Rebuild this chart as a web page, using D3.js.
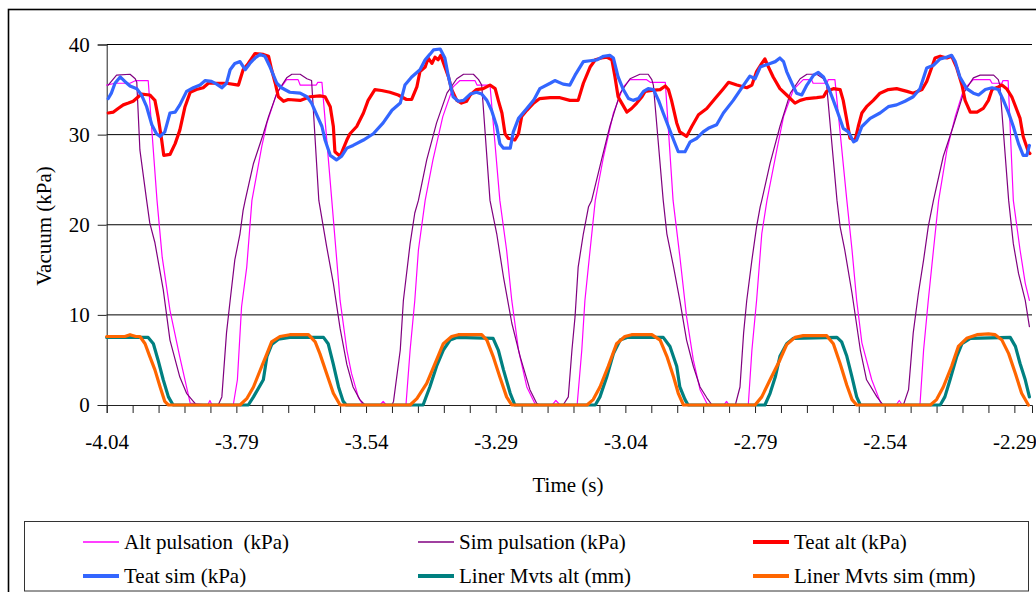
<!DOCTYPE html>
<html><head><meta charset="utf-8">
<script src="https://cdn.jsdelivr.net/npm/d3@7"></script>
<style>
html,body{margin:0;padding:0;background:#fff;}
text{font-family:"Liberation Serif","Times New Roman",serif;fill:#000;}
</style></head>
<body><svg id="c" width="1036" height="592"></svg>
<script>
// ---- data (time in s, value) ----
const seriesNames = ["Alt pulsation  (kPa)","Sim pulsation (kPa)","Teat alt (kPa)","Teat sim (kPa)","Liner Mvts alt (mm)","Liner Mvts sim (mm)"];
const yTicks = [0,10,20,30,40];
const xTickLabels = ["-4.04","-3.79","-3.54","-3.29","-3.04","-2.79","-2.54","-2.29"];

const altPulsation = [[-4.040,35.5],[-4.024,35.7],[-3.995,35.7],[-3.984,36.0],[-3.960,36.0],[-3.943,22.7],[-3.933,16.4],[-3.918,10.5],[-3.899,5.3],[-3.879,0.2],[-3.845,0],[-3.841,0.5],[-3.837,0],[-3.796,0],[-3.788,2.8],[-3.780,10.9],[-3.770,15.3],[-3.760,22.7],[-3.741,28.7],[-3.731,31.3],[-3.712,34.6],[-3.693,36.1],[-3.671,36.1],[-3.667,35.5],[-3.636,35.5],[-3.633,35.8],[-3.625,35.8],[-3.606,22.7],[-3.590,11.6],[-3.577,6.1],[-3.568,3.5],[-3.555,0.9],[-3.546,0],[-3.513,0],[-3.507,0.4],[-3.501,0],[-3.463,0],[-3.455,6.1],[-3.446,11.6],[-3.439,17.2],[-3.426,22.7],[-3.411,27.2],[-3.392,32.0],[-3.372,35.3],[-3.359,36.0],[-3.330,36.0],[-3.326,35.5],[-3.301,35.5],[-3.282,22.7],[-3.269,17.2],[-3.259,11.6],[-3.246,6.1],[-3.230,2.0],[-3.214,0.1],[-3.210,0],[-3.181,0],[-3.174,0.5],[-3.166,0],[-3.133,0],[-3.124,6.1],[-3.118,11.6],[-3.108,17.2],[-3.098,22.7],[-3.082,27.6],[-3.063,32.4],[-3.044,35.3],[-3.031,36.1],[-2.999,36.1],[-2.992,35.8],[-2.963,35.8],[-2.948,22.7],[-2.935,16.5],[-2.922,9.8],[-2.909,5.0],[-2.896,1.7],[-2.883,0.2],[-2.879,0],[-2.850,0],[-2.845,0.4],[-2.840,0],[-2.803,0],[-2.796,6.1],[-2.787,11.6],[-2.777,19.0],[-2.767,22.7],[-2.748,28.3],[-2.735,32.0],[-2.716,35.0],[-2.697,36.1],[-2.681,36.1],[-2.678,35.7],[-2.651,35.7],[-2.649,36.1],[-2.636,36.1],[-2.613,22.7],[-2.603,17.2],[-2.594,11.6],[-2.584,6.9],[-2.565,2.8],[-2.549,0.4],[-2.545,0],[-2.518,0],[-2.512,0.5],[-2.506,0],[-2.472,0],[-2.465,6.1],[-2.456,11.6],[-2.446,17.2],[-2.436,22.7],[-2.420,28.3],[-2.404,32.0],[-2.388,35.0],[-2.369,36.1],[-2.337,36.1],[-2.333,35.7],[-2.314,35.7],[-2.312,36.0],[-2.302,36.0],[-2.292,22.7],[-2.279,17.2],[-2.269,13.5],[-2.261,11.6]];

const simPulsation = [[-4.037,35.5],[-4.021,36.6],[-3.995,36.7],[-3.985,36.2],[-3.982,35.8],[-3.976,28.3],[-3.963,22.7],[-3.957,20.2],[-3.947,18.0],[-3.931,12.8],[-3.918,7.2],[-3.899,3.1],[-3.886,1.3],[-3.873,0.4],[-3.867,0],[-3.825,0],[-3.818,0.9],[-3.809,8.0],[-3.802,11.6],[-3.793,16.1],[-3.783,19.0],[-3.777,21.6],[-3.773,22.7],[-3.757,26.8],[-3.738,30.1],[-3.728,32.0],[-3.712,34.6],[-3.693,36.3],[-3.683,36.7],[-3.667,36.7],[-3.654,36.2],[-3.645,36.0],[-3.631,22.7],[-3.616,17.6],[-3.603,13.5],[-3.590,8.5],[-3.577,4.5],[-3.565,2.0],[-3.552,0.6],[-3.542,0],[-3.490,0],[-3.487,0.4],[-3.474,6.1],[-3.468,11.6],[-3.455,17.9],[-3.446,21.3],[-3.439,22.7],[-3.423,27.2],[-3.404,31.3],[-3.384,34.6],[-3.365,36.2],[-3.352,36.7],[-3.333,36.7],[-3.323,36.1],[-3.317,35.5],[-3.301,22.7],[-3.288,19.0],[-3.275,14.2],[-3.259,9.1],[-3.243,5.4],[-3.224,1.7],[-3.211,0.2],[-3.206,0],[-3.160,0],[-3.150,0.9],[-3.143,6.1],[-3.137,9.8],[-3.131,15.3],[-3.121,19.0],[-3.111,22.0],[-3.105,22.7],[-3.086,27.2],[-3.070,30.9],[-3.050,34.6],[-3.031,36.2],[-3.012,36.7],[-2.996,36.7],[-2.989,36.1],[-2.986,35.5],[-2.967,22.7],[-2.960,19.0],[-2.947,15.3],[-2.935,11.6],[-2.922,7.2],[-2.909,4.3],[-2.896,2.0],[-2.883,0.8],[-2.873,0],[-2.828,0],[-2.819,2.0],[-2.812,8.0],[-2.806,11.6],[-2.796,16.1],[-2.787,19.8],[-2.780,22.0],[-2.777,22.7],[-2.761,26.8],[-2.742,30.9],[-2.722,34.6],[-2.703,36.2],[-2.690,36.7],[-2.671,36.7],[-2.658,36.2],[-2.652,35.5],[-2.632,22.7],[-2.626,19.8],[-2.617,17.2],[-2.603,12.4],[-2.587,6.1],[-2.575,2.8],[-2.555,0.9],[-2.543,0],[-2.504,0],[-2.494,1.7],[-2.485,8.0],[-2.475,12.4],[-2.465,16.1],[-2.456,19.8],[-2.446,22.7],[-2.427,27.6],[-2.408,30.9],[-2.388,34.6],[-2.369,36.3],[-2.356,36.6],[-2.330,36.6],[-2.321,36.1],[-2.318,35.5],[-2.301,22.7],[-2.292,17.9],[-2.282,14.6],[-2.269,11.6],[-2.261,8.7]];

const teatAlt = [[-4.037,32.4],[-4.027,32.5],[-4.018,32.9],[-4.008,33.3],[-3.998,33.5],[-3.989,33.7],[-3.979,34.2],[-3.973,34.5],[-3.957,34.4],[-3.947,33.8],[-3.941,32.0],[-3.934,29.4],[-3.930,27.7],[-3.918,27.8],[-3.908,29.0],[-3.899,30.5],[-3.889,33.1],[-3.879,34.7],[-3.867,35.0],[-3.854,35.2],[-3.844,35.7],[-3.809,35.7],[-3.786,35.5],[-3.777,37.2],[-3.767,37.9],[-3.754,39.0],[-3.738,38.9],[-3.728,38.7],[-3.722,37.2],[-3.715,35.7],[-3.709,34.2],[-3.699,33.7],[-3.690,33.9],[-3.667,33.8],[-3.648,34.2],[-3.629,34.3],[-3.619,34.2],[-3.609,33.1],[-3.603,30.9],[-3.600,28.1],[-3.590,27.6],[-3.577,29.4],[-3.571,30.1],[-3.558,30.9],[-3.545,32.4],[-3.536,33.8],[-3.523,35.0],[-3.510,34.9],[-3.494,34.7],[-3.478,34.4],[-3.462,33.9],[-3.452,33.9],[-3.442,35.3],[-3.436,37.0],[-3.426,37.5],[-3.420,38.5],[-3.413,37.9],[-3.407,38.6],[-3.401,38.3],[-3.396,38.8],[-3.388,37.5],[-3.381,36.4],[-3.375,35.0],[-3.365,33.8],[-3.356,33.5],[-3.346,33.7],[-3.339,34.4],[-3.327,35.0],[-3.314,35.1],[-3.301,35.5],[-3.291,35.1],[-3.285,33.8],[-3.278,32.4],[-3.272,30.1],[-3.266,29.6],[-3.253,29.4],[-3.246,30.1],[-3.240,32.0],[-3.230,32.7],[-3.217,33.5],[-3.205,34.0],[-3.185,34.1],[-3.166,34.1],[-3.147,33.8],[-3.131,33.8],[-3.121,35.7],[-3.108,37.5],[-3.098,38.3],[-3.086,38.5],[-3.076,38.6],[-3.066,38.3],[-3.060,36.4],[-3.054,34.2],[-3.047,33.5],[-3.037,32.5],[-3.028,32.9],[-3.018,33.5],[-3.008,34.2],[-3.002,34.8],[-2.989,34.9],[-2.973,35.0],[-2.963,35.4],[-2.957,35.0],[-2.951,33.8],[-2.941,31.3],[-2.935,30.3],[-2.922,29.8],[-2.912,30.9],[-2.899,32.2],[-2.883,32.9],[-2.867,34.0],[-2.851,35.1],[-2.841,35.8],[-2.825,35.5],[-2.806,35.2],[-2.796,35.5],[-2.787,37.0],[-2.777,37.9],[-2.771,38.4],[-2.764,37.5],[-2.755,36.4],[-2.742,35.1],[-2.729,34.4],[-2.713,33.5],[-2.703,33.8],[-2.690,34.0],[-2.671,34.1],[-2.658,34.2],[-2.652,34.8],[-2.639,35.1],[-2.626,35.0],[-2.620,33.8],[-2.613,31.6],[-2.607,29.6],[-2.597,29.4],[-2.591,30.9],[-2.584,32.4],[-2.575,33.1],[-2.562,33.8],[-2.549,34.6],[-2.533,35.0],[-2.517,35.1],[-2.497,34.8],[-2.485,34.6],[-2.468,35.0],[-2.459,35.9],[-2.449,37.5],[-2.443,38.5],[-2.433,38.7],[-2.420,38.5],[-2.411,38.7],[-2.401,37.4],[-2.391,35.5],[-2.385,33.8],[-2.375,32.5],[-2.362,32.5],[-2.350,32.9],[-2.340,33.8],[-2.333,35.0],[-2.321,35.3],[-2.314,35.5],[-2.305,35.1],[-2.295,34.2],[-2.285,32.7],[-2.279,31.8],[-2.273,29.8],[-2.263,28.1],[-2.260,27.9]];

const teatSim = [[-4.037,34.0],[-4.031,34.6],[-4.024,35.7],[-4.014,36.4],[-4.005,35.9],[-3.995,35.4],[-3.982,35.1],[-3.973,34.4],[-3.963,33.1],[-3.953,31.1],[-3.944,30.1],[-3.937,29.8],[-3.928,30.3],[-3.918,32.4],[-3.908,32.5],[-3.899,33.3],[-3.886,34.8],[-3.873,35.2],[-3.860,35.5],[-3.850,36.0],[-3.838,35.9],[-3.828,35.6],[-3.818,35.2],[-3.809,35.7],[-3.802,37.2],[-3.793,37.9],[-3.783,38.1],[-3.773,37.2],[-3.764,37.9],[-3.754,38.5],[-3.744,38.9],[-3.735,38.7],[-3.725,37.5],[-3.712,35.7],[-3.703,35.2],[-3.687,34.7],[-3.667,34.6],[-3.654,34.2],[-3.645,33.5],[-3.635,32.2],[-3.625,30.9],[-3.619,29.4],[-3.609,27.7],[-3.597,27.2],[-3.587,27.6],[-3.577,28.5],[-3.565,28.8],[-3.545,29.4],[-3.526,30.1],[-3.507,31.3],[-3.490,32.7],[-3.474,33.5],[-3.465,35.5],[-3.452,36.4],[-3.436,37.2],[-3.426,38.3],[-3.417,38.9],[-3.410,39.4],[-3.397,39.5],[-3.388,38.5],[-3.381,36.4],[-3.372,34.2],[-3.362,33.7],[-3.352,33.8],[-3.339,34.5],[-3.327,34.7],[-3.317,34.5],[-3.307,33.8],[-3.298,32.7],[-3.288,30.9],[-3.282,29.0],[-3.275,28.5],[-3.262,28.5],[-3.256,30.3],[-3.246,31.8],[-3.230,32.9],[-3.217,33.8],[-3.205,35.1],[-3.185,35.7],[-3.176,36.0],[-3.160,35.6],[-3.147,35.5],[-3.137,36.6],[-3.121,38.1],[-3.108,38.2],[-3.095,38.3],[-3.082,38.7],[-3.070,38.8],[-3.063,38.5],[-3.054,36.4],[-3.044,35.0],[-3.034,34.0],[-3.025,33.8],[-3.015,34.0],[-3.005,34.8],[-2.996,35.1],[-2.986,35.0],[-2.976,33.8],[-2.967,32.4],[-2.957,30.9],[-2.947,29.4],[-2.938,28.1],[-2.925,28.1],[-2.915,29.2],[-2.902,29.6],[-2.890,30.3],[-2.880,30.7],[-2.864,31.1],[-2.851,32.4],[-2.832,33.8],[-2.812,35.5],[-2.800,36.5],[-2.790,36.2],[-2.780,37.5],[-2.771,37.7],[-2.761,37.9],[-2.751,38.1],[-2.742,38.5],[-2.735,38.1],[-2.729,37.0],[-2.719,35.7],[-2.710,34.6],[-2.700,34.4],[-2.690,35.5],[-2.677,36.6],[-2.668,36.9],[-2.658,36.4],[-2.649,35.3],[-2.639,33.8],[-2.629,32.2],[-2.620,30.7],[-2.610,30.3],[-2.600,29.2],[-2.594,29.4],[-2.584,30.9],[-2.568,31.8],[-2.549,32.4],[-2.533,33.1],[-2.517,33.3],[-2.501,33.7],[-2.485,34.2],[-2.472,35.1],[-2.459,37.4],[-2.446,37.7],[-2.433,38.4],[-2.420,38.6],[-2.411,38.8],[-2.404,38.1],[-2.395,36.4],[-2.382,35.1],[-2.369,34.6],[-2.359,34.4],[-2.346,35.0],[-2.333,35.2],[-2.321,35.0],[-2.311,33.8],[-2.301,32.4],[-2.292,30.9],[-2.282,29.0],[-2.273,27.7],[-2.266,27.7],[-2.261,28.8]];

const linerAlt = [[-4.040,7.5],[-3.960,7.5],[-3.950,6.8],[-3.941,5.0],[-3.931,2.8],[-3.921,0.9],[-3.912,0],[-3.767,0],[-3.757,0.9],[-3.738,2.8],[-3.731,5.4],[-3.722,6.7],[-3.709,7.3],[-3.687,7.5],[-3.622,7.5],[-3.613,6.8],[-3.603,4.5],[-3.593,2.0],[-3.584,0.4],[-3.578,0],[-3.430,0],[-3.417,2.0],[-3.404,4.3],[-3.391,6.1],[-3.378,7.2],[-3.365,7.5],[-3.295,7.4],[-3.285,6.1],[-3.275,3.9],[-3.262,1.3],[-3.253,0],[-3.098,0],[-3.089,0.9],[-3.076,3.1],[-3.063,5.7],[-3.050,7.2],[-3.037,7.5],[-2.967,7.5],[-2.954,6.5],[-2.941,4.3],[-2.935,2.0],[-2.925,0.6],[-2.919,0],[-2.771,0],[-2.761,1.3],[-2.751,3.1],[-2.742,5.4],[-2.729,6.8],[-2.716,7.4],[-2.632,7.5],[-2.623,7.0],[-2.613,5.4],[-2.603,3.1],[-2.594,0.9],[-2.587,0],[-2.433,0],[-2.424,0.9],[-2.414,2.8],[-2.401,5.4],[-2.391,6.8],[-2.375,7.4],[-2.298,7.5],[-2.288,6.5],[-2.279,4.6],[-2.269,2.8],[-2.261,0.9]];

const linerSim = [[-4.040,7.6],[-4.005,7.6],[-3.995,7.8],[-3.984,7.6],[-3.976,7.6],[-3.966,6.8],[-3.957,5.4],[-3.947,3.9],[-3.937,2.0],[-3.928,0.4],[-3.921,0],[-3.783,0],[-3.770,0.7],[-3.757,2.0],[-3.741,4.3],[-3.731,5.7],[-3.722,7.0],[-3.706,7.6],[-3.687,7.8],[-3.651,7.8],[-3.638,7.0],[-3.629,5.7],[-3.616,3.5],[-3.603,1.3],[-3.590,0],[-3.455,0],[-3.442,0.7],[-3.423,2.4],[-3.404,5.0],[-3.391,6.8],[-3.375,7.6],[-3.362,7.8],[-3.317,7.8],[-3.307,7.2],[-3.295,5.4],[-3.282,3.1],[-3.269,0.9],[-3.259,0],[-3.114,0],[-3.102,0.6],[-3.089,2.0],[-3.073,4.3],[-3.057,6.8],[-3.041,7.6],[-3.028,7.8],[-2.989,7.8],[-2.973,7.2],[-2.960,5.4],[-2.947,3.1],[-2.938,1.3],[-2.928,0],[-2.790,0],[-2.777,0.9],[-2.761,2.8],[-2.742,5.0],[-2.729,6.7],[-2.713,7.5],[-2.697,7.7],[-2.652,7.7],[-2.639,6.8],[-2.626,4.6],[-2.613,2.2],[-2.603,0.6],[-2.594,0],[-2.452,0],[-2.440,0.6],[-2.427,2.0],[-2.411,4.3],[-2.398,6.5],[-2.382,7.4],[-2.362,7.8],[-2.340,7.9],[-2.327,7.8],[-2.314,7.2],[-2.301,5.7],[-2.288,3.5],[-2.276,1.3],[-2.263,0]];

const seriesData = [altPulsation, simPulsation, teatAlt, teatSim, linerAlt, linerSim];
const seriesColors = ["#FF00FF","#800080","#FF0000","#3366FF","#008080","#FF6600"];
const seriesWidths = [1.2,1.2,3.2,3.2,3.2,3.2];

// ---- layout ----
const svg = d3.select("#c");
const L = 106.7, R = 1032, T = 44.5, B = 405;
const x = d3.scaleLinear().domain([-4.04, -2.256]).range([L, R]);
const y = d3.scaleLinear().domain([0, 40]).range([B, T]);
const FONT = 21;

// outer frame
svg.append("rect").attr("x",8.5).attr("y",9.5).attr("width",1040).attr("height",600)
  .attr("fill","none").attr("stroke","#000").attr("stroke-width",1.6);

// gridlines
svg.append("g").selectAll("line").data(yTicks.filter(v=>v>0)).join("line")
  .attr("x1",L).attr("x2",R).attr("y1",d=>y(d)).attr("y2",d=>y(d))
  .attr("stroke","#000").attr("stroke-width",1);

// y axis
const yAxis = svg.append("g").attr("transform",`translate(${L},0)`)
  .call(d3.axisLeft(y).tickValues(yTicks).tickSize(9).tickPadding(8).tickFormat(d3.format("d")));
yAxis.select(".domain").attr("stroke","#222");
yAxis.selectAll(".tick line").attr("stroke","#222");
yAxis.selectAll("text").attr("font-size",FONT).attr("font-family","Liberation Serif");

// x axis: minor ticks every 0.05 s, labels every 0.25 s
const xTickVals = d3.range(0, 36).map(k => -4.04 + k*0.05);
const xAxis = svg.append("g").attr("transform",`translate(0,${B})`)
  .call(d3.axisBottom(x).tickValues(xTickVals).tickSize(8).tickPadding(21)
    .tickFormat((d,i)=> i%5===0 ? xTickLabels[i/5] : ""));
xAxis.select(".domain").attr("stroke","#222");
xAxis.selectAll(".tick line").attr("stroke","#222");
xAxis.selectAll("text").attr("font-size",FONT).attr("font-family","Liberation Serif");

// series
const line = d3.line().x(d=>x(d[0])).y(d=>y(d[1]));
seriesData.forEach((s,i)=>{
  svg.append("path").datum(s).attr("d",line).attr("fill","none")
    .attr("stroke",seriesColors[i]).attr("stroke-width",seriesWidths[i])
    .attr("stroke-linejoin","round").attr("stroke-linecap","round");
});

// axis titles
svg.append("text").attr("x",568).attr("y",492).attr("text-anchor","middle")
  .attr("font-size",FONT).text("Time (s)");
svg.append("text").attr("transform","translate(51,226) rotate(-90)").attr("text-anchor","middle")
  .attr("font-size",FONT).text("Vacuum (kPa)");

// legend
svg.append("rect").attr("x",24.5).attr("y",521.5).attr("width",1004).attr("height",69.5)
  .attr("fill","#fff").attr("stroke","#333").attr("stroke-width",1);
const colX = [83, 418, 753];
const rowY = [542, 576];
seriesNames.forEach((name,i)=>{
  const cx = colX[i%3], cy = rowY[Math.floor(i/3)];
  svg.append("line").attr("x1",cx).attr("x2",cx+36).attr("y1",cy).attr("y2",cy)
    .attr("stroke",seriesColors[i]).attr("stroke-width",seriesWidths[i]===1.2?1.5:4);
  svg.append("text").attr("x",cx+41).attr("y",cy).attr("dy","0.35em")
    .attr("font-size",FONT).style("white-space","pre").text(name);
});
</script></body></html>
